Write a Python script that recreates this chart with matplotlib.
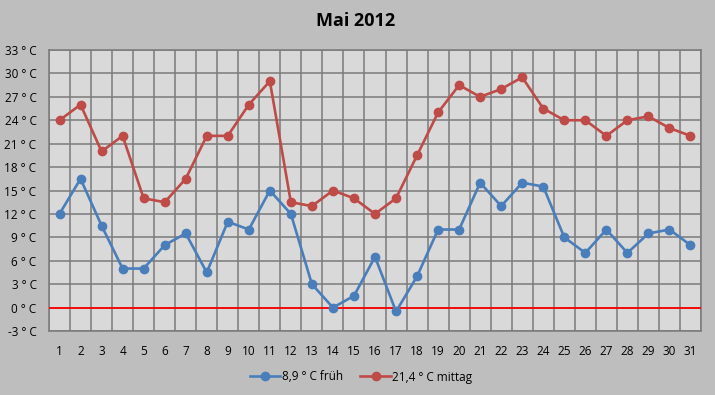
import matplotlib
matplotlib.use("Agg")
import matplotlib.pyplot as plt
import numpy as np

days = list(range(1, 32))
frueh = [12, 16.5, 10.5, 5, 5, 8, 9.5, 4.5, 11, 10, 15, 12, 3, 0, 1.5, 6.5, -0.5, 4,
         10, 10, 16, 13, 16, 15.5, 9, 7, 10, 7, 9.5, 10, 8]
mittag = [24, 26, 20, 22, 14, 13.5, 16.5, 22, 22, 26, 29, 13.5, 13, 15, 14, 12, 14, 19.5,
          25, 28.5, 27, 28, 29.5, 25.5, 24, 24, 22, 24, 24.5, 23, 22]
yticks = list(range(-3, 34, 3))
ytick_labels = [f"{v} ° C" for v in yticks]
series_labels = ["8,9 ° C früh", "21,4 ° C mittag"]
title = "Mai 2012"

plt.rcParams['font.family'] = ['Open Sans', 'DejaVu Sans']

fig = plt.figure(figsize=(7.15, 3.95), dpi=100)
fig.patch.set_facecolor('#bebebe')
ax = fig.add_axes([49/715, (395-331)/395, (701-49)/715, (331-50)/395])
ax.set_facecolor('#d9d9d9')

blue = '#4a7ebb'
red = '#be4b48'
ax.plot(days, frueh, color=blue, lw=1.9, marker='o', ms=6, label=series_labels[0], zorder=4)
ax.plot(days, mittag, color=red, lw=1.9, marker='o', ms=6, label=series_labels[1], zorder=4)
ax.axhline(0, color='#ff0000', lw=1.3, zorder=3)

ax.set_xlim(0.5, 31.5)
ax.set_ylim(-3, 33)
ax.set_xticks(days)
ax.set_xticklabels([str(d) for d in days], fontsize=8.5)
ax.set_xticks(np.arange(0.5, 32, 1), minor=True)
ax.set_yticks(yticks)
ax.set_yticklabels(ytick_labels, fontsize=8.5)
ax.grid(False)
ax.grid(True, which='minor', axis='x', color='#7a7a7a', lw=1.1, zorder=1)
ax.grid(True, which='major', axis='y', color='#7a7a7a', lw=1.1, zorder=1)
ax.set_axisbelow(True)
ax.tick_params(axis='both', which='both', length=0)
ax.tick_params(axis='x', pad=10)
ax.tick_params(axis='y', pad=9)
for s in ax.spines.values():
    s.set_color('#7a7a7a')
    s.set_linewidth(1.1)

fig.text(356/715, 1 - 21/395, title, ha='center', va='center', fontsize=13, fontweight='bold')

leg = fig.legend(loc='center', bbox_to_anchor=(361/715, 1 - 377/395), ncol=2, frameon=False,
                 fontsize=8.5, handlelength=2.6, handletextpad=0.1, columnspacing=1.5)

fig.savefig('out.png', dpi=100, facecolor=fig.get_facecolor())
